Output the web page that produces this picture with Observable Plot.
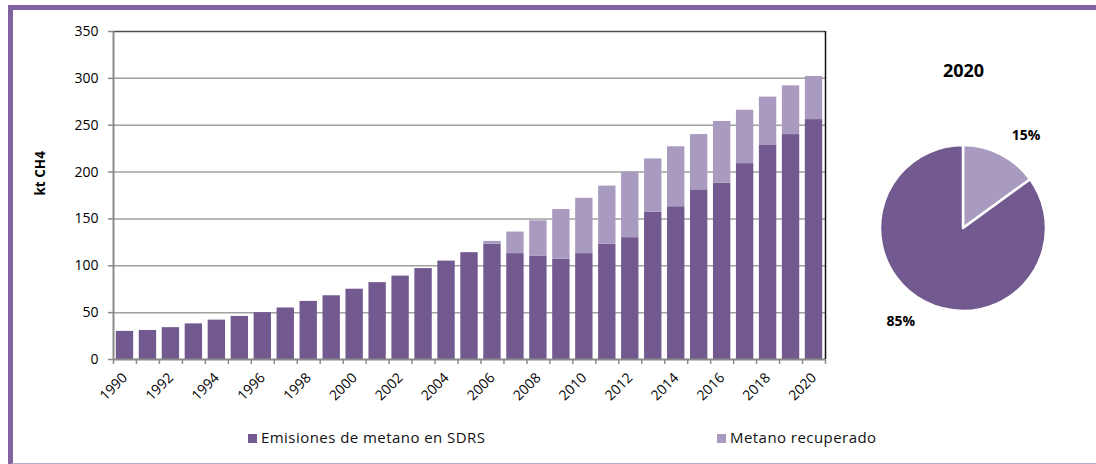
<!DOCTYPE html>
<html>
<head>
<meta charset="utf-8">
<script src="https://cdn.jsdelivr.net/npm/d3@7"></script>
<script src="https://cdn.jsdelivr.net/npm/@observablehq/plot@0.6"></script>
<style>
  html, body { margin: 0; padding: 0; background: #fff; }
  #wrap { position: relative; width: 1096px; height: 464px; overflow: hidden; background: #fff; font-family: "Open Sans", sans-serif; }
  #wrap svg { position: absolute; top: 0; background: transparent; max-width: none; overflow: visible; }
  .frame { position: absolute; left: 8px; top: 5px; width: 1200px; height: 453px; border-top: 5px solid #8064a2; border-left: 5px solid #8064a2; border-bottom: 2px solid #b9aad0; pointer-events: none; }
  .leg { position: absolute; top: 427px; font-size: 15px; letter-spacing: 0.45px; color: #111; white-space: nowrap; line-height: 20px; }
  .sw { display: inline-block; width: 9px; height: 9px; margin-right: 4px; vertical-align: 0px; }
</style>
</head>
<body>
<div id="wrap">
  <div id="bars"></div>
  <div id="pie"></div>
  <div class="leg" style="left:248px"><span class="sw" style="background:#72598f"></span>Emisiones de metano en SDRS</div>
  <div class="leg" style="left:717px"><span class="sw" style="background:#a99bbf"></span>Metano recuperado</div>
  <div class="frame"></div>
</div>
<script>
// ---- data ----
const years = [1990,1991,1992,1993,1994,1995,1996,1997,1998,1999,2000,2001,2002,2003,2004,2005,2006,2007,2008,2009,2010,2011,2012,2013,2014,2015,2016,2017,2018,2019,2020];
const emisiones = [30,31,34,38,42,46,50,55,62,68,75,82,89,97,105,114,123,113,110,107,113,123,130,157,163,181,188,209,229,240,256];
const recuperado = [0,0,0,0,0,0,0,0,0,0,0,0,0,0,0,0,3,23,38,53,59,62,70,57,64,59,66,57,51,52,46];
const yTicks = [0,50,100,150,200,250,300,350];
const yearLabels = [1990,1992,1994,1996,1998,2000,2002,2004,2006,2008,2010,2012,2014,2016,2018,2020];
const seriesNames = ["Emisiones de metano en SDRS", "Metano recuperado"];
const pieYear = "2020";
const pieShares = [85, 15];   // % Emisiones, % Metano recuperado
const yLabel = "kt CH4";
const colors = ["#72598f", "#a99bbf"];

const rows = years.map((year, i) => ({year, dark: emisiones[i], rec: recuperado[i]}));
const boundaries = years.map(y => y - 0.5).concat([years[years.length - 1] + 0.5]);

const bars = Plot.plot({
  width: 850, height: 420,
  marginLeft: 113, marginRight: 25, marginTop: 31, marginBottom: 61,
  style: {fontFamily: "Open Sans", fontSize: "13px", color: "#000", background: "transparent", overflow: "visible"},
  x: {type: "linear", domain: [1989.5, 2020.5], axis: null},
  y: {domain: [0, 350], axis: null},
  marks: [
    Plot.ruleY(yTicks.slice(1, -1), {stroke: "#a0a0a0", strokeWidth: 1.5}),
    Plot.ruleY([350], {stroke: "#4d4d4d", strokeWidth: 1.5}),
    Plot.rectY(rows, {x1: d => d.year - 0.5, x2: d => d.year + 0.5, y1: 0, y2: "dark", fill: colors[0], insetLeft: 2.8, insetRight: 2.8}),
    Plot.rectY(rows.filter(d => d.rec > 0), {x1: d => d.year - 0.5, x2: d => d.year + 0.5, y1: "dark", y2: d => d.dark + d.rec, fill: colors[1], insetLeft: 2.8, insetRight: 2.8}),
    Plot.ruleY([0], {stroke: "#8a8a8a", strokeWidth: 2}),
    Plot.ruleX([1989.5], {y1: 0, y2: 350, stroke: "#8a8a8a", strokeWidth: 2}),
    Plot.ruleX([2020.5], {y1: 0, y2: 350, stroke: "#111", strokeWidth: 1.5}),
    Plot.axisX({ticks: boundaries, tickSize: 5, tickFormat: () => "", stroke: "#8a8a8a", strokeWidth: 1.5}),
    Plot.axisX({ticks: yearLabels, tickSize: 0, tickPadding: 16, tickRotate: -45, tickFormat: d => String(d), fontSize: 14, label: null}),
    Plot.axisY({ticks: yTicks, tickSize: 5, tickPadding: 10, stroke: "#8a8a8a", strokeWidth: 1.5, fontSize: 14, label: null}),
    Plot.text([yLabel], {frameAnchor: "left", dx: -73, rotate: -90, fontWeight: "bold", fontSize: 13.5, text: d => d})
  ]
});
bars.style.left = "0px";
document.getElementById("bars").appendChild(bars);

// ---- pie ----
const pieData = seriesNames.map((name, i) => ({name, share: pieShares[i], color: colors[i]}));
const pieLayout = d3.pie().value(d => d.share).sort(null).startAngle(0);
// recovered slice starts at 12 o'clock, clockwise
const ordered = [pieData[1], pieData[0]];
const arcs = pieLayout(ordered);
const labelPts = arcs.map(a => {
  const mid = (a.startAngle + a.endAngle) / 2 + 7 * Math.PI / 180;
  return {x: 1.35 * Math.sin(mid), y: 1.35 * Math.cos(mid), text: a.data.share + "%"};
});

const pie = Plot.plot({
  width: 246, height: 400,
  marginLeft: 30, marginRight: 50, marginTop: 145, marginBottom: 89,
  style: {fontFamily: "Open Sans", color: "#000", background: "transparent"},
  x: {type: "linear", domain: [-1, 1], axis: null},
  y: {type: "linear", domain: [-1, 1], axis: null},
  marks: [
    (index, scales, values, dimensions) => {
      const sx = scales.x, sy = scales.y;
      const cx = sx(0), cy = sy(0), r = sx(1) - sx(0);
      const g = d3.create("svg:g").attr("transform", `translate(${cx},${cy})`);
      const arc = d3.arc().innerRadius(0).outerRadius(r);
      g.selectAll("path").data(arcs).join("path")
        .attr("d", arc)
        .attr("fill", d => d.data.color)
        .attr("stroke", "#fff")
        .attr("stroke-width", 2.5)
        .attr("stroke-linejoin", "round");
      return g.node();
    },
    Plot.text(labelPts, {x: "x", y: "y", text: "text", fontWeight: "bold", fontSize: 14}),
    Plot.text([pieYear], {x: 0, y: 1.9, text: d => d, fontWeight: "bold", fontSize: 18})
  ]
});
pie.style.left = "850px";
document.getElementById("pie").appendChild(pie);
</script>
</body>
</html>
